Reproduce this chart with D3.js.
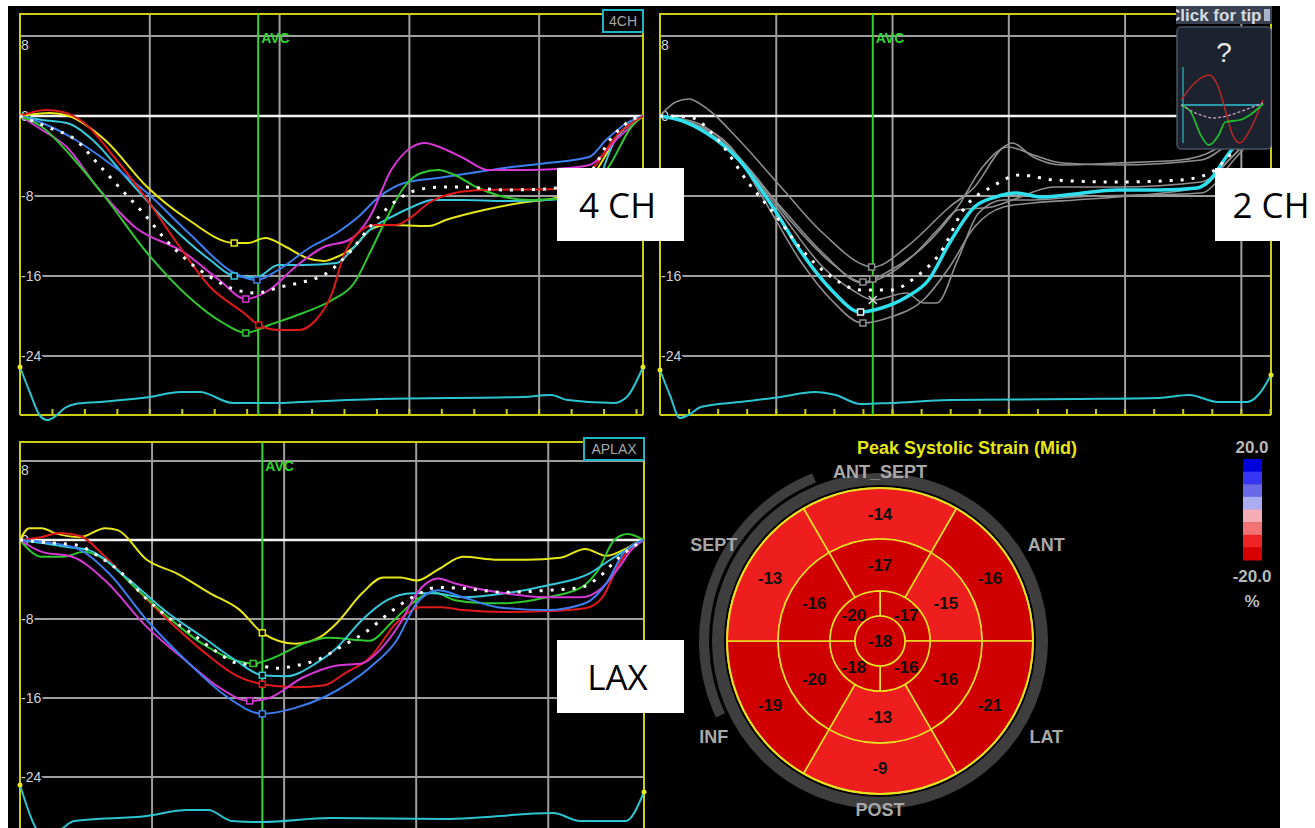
<!DOCTYPE html>
<meta charset="utf-8">
<style>
    body { margin: 0; background: #fff; }
    svg { display: block; }
    .ylab { font: 14px "Liberation Sans", Arial, sans-serif; fill: #d4d4d4; }
    .avc { font: bold 14px "Liberation Sans", Arial, sans-serif; fill: #2ed62e; }
    .seg { font: bold 18px "Liberation Sans", Arial, sans-serif; fill: #a8a8a8; }
    .val { font: bold 17px "Liberation Sans", Arial, sans-serif; fill: #111; }
    .big { font: 35px "Open Sans", sans-serif; fill: #000; }
</style>
<svg width="1315" height="828"></svg>
<script src="https://cdn.jsdelivr.net/npm/d3@7/dist/d3.min.js"></script>
<script>

// ---- strain curves, [time ms, strain %] ----
// apical 4 chamber
var ch4Yellow = [[0,0],[46,0.3],[75,0],[131,-2.4],[196,-7.1],[260,-10.4],[330,-12.7],[351,-12.7],[378,-12.2],[410,-13.1],[442,-14.2],[468,-14.5],[488,-14.1],[515,-13.1],[539,-11.4],[566,-10.9],[630,-11.0],[656,-10.4],[715,-9.4],[780,-8.6],[826,-8.2],[877,-6.4],[929,-1.4],[960,0]];
var ch4Cyan = [[0,0],[34,-0.4],[72,-0.7],[112,-2.4],[163,-6.1],[228,-10.7],[293,-14.4],[330,-16.0],[365,-16.1],[398,-14.9],[436,-14.9],[488,-14.7],[515,-13.1],[539,-11.4],[572,-10.1],[604,-9.1],[636,-8.4],[683,-8.4],[747,-8.5],[812,-8.4],[878,-7.9],[917,-2.4],[960,0]];
var ch4Blue = [[0,0],[34,-0.7],[86,-2.4],[131,-4.4],[196,-7.7],[260,-11.7],[330,-15.7],[365,-16.4],[398,-15.4],[448,-13.1],[488,-11.7],[521,-10.1],[553,-8.1],[592,-6.7],[644,-6.2],[695,-5.7],[747,-5.2],[812,-4.7],[877,-4.1],[903,-2.4],[935,-0.7],[960,0]];
var ch4Magenta = [[0,0],[34,-1.4],[72,-3.1],[119,-7.1],[177,-11.1],[254,-13.7],[307,-16.4],[348,-18.3],[384,-17.4],[424,-15.1],[468,-13.1],[507,-12.4],[539,-10.1],[572,-5.4],[604,-3.1],[624,-2.7],[650,-3.2],[683,-4.2],[721,-5.4],[780,-5.4],[826,-5.3],[877,-4.9],[923,-2.1],[960,0]];
var ch4Green = [[0,0],[34,-1.1],[80,-4.1],[131,-8.1],[196,-13.7],[260,-18.1],[313,-20.7],[348,-21.7],[384,-20.9],[436,-19.7],[481,-18.4],[515,-16.7],[539,-13.7],[566,-10.1],[592,-7.1],[618,-5.7],[644,-5.4],[670,-5.9],[703,-7.1],[735,-7.9],[786,-8.4],[826,-8.3],[863,-8.3],[909,-4.9],[942,-1.1],[960,0]];
var ch4Red = [[0,0],[40,0.6],[66,0.4],[99,-0.7],[145,-4.1],[196,-8.4],[242,-12.7],[293,-17.1],[345,-19.7],[368,-20.9],[398,-21.4],[430,-21.4],[456,-20.4],[481,-17.7],[498,-14.1],[521,-11.7],[547,-10.9],[579,-10.9],[601,-10.2],[630,-8.7],[670,-7.7],[715,-7.4],[826,-7.3],[877,-5.7],[923,-1.7],[960,0]];
var ch4Avg = [[0,0],[46,-1.2],[86,-2.4],[119,-4.7],[154,-7.2],[190,-9.7],[225,-12.4],[257,-14.4],[293,-16.1],[333,-17.4],[365,-17.7],[401,-17.1],[436,-16.6],[468,-15.9],[507,-13.7],[539,-11.1],[575,-8.7],[612,-7.4],[650,-7.1],[683,-7.1],[747,-7.4],[812,-7.3],[877,-5.7],[909,-2.4],[942,-0.4],[960,0]];
var ch4Peaks = [[330,-12.7],[330,-16.0],[365,-16.4],[348,-18.3],[348,-21.7],[368,-20.9]];
var ch4Ecg = [[0,4.8],[15,2.3],[31,-0.1],[42,-0.5],[55,-0.1],[69,0.7],[85,1.1],[123,1.3],[200,1.8],[247,2.3],[277,2.3],[328,1.2],[396,1.2],[431,1.3],[553,1.6],[774,1.8],[818,2.0],[844,1.5],[915,1.2],[935,1.8],[960,4.8]];

// apical 2 chamber
var ch2Cyan = [[0,0],[34,-0.4],[77,-1.6],[136,-4.4],[194,-9.1],[244,-13.7],[295,-17.4],[345,-19.6],[381,-19.2],[424,-18.1],[462,-16.4],[498,-12.7],[541,-9.1],[577,-8.1],[613,-7.7],[656,-8.1],[714,-7.8],[786,-7.4],[858,-7.4],[924,-7.2],[946,-6.4],[974,-4.1],[1018,-1.1],[1051,0]];
var ch2Grey1 = [[0,0],[27,1.4],[50,1.7],[77,0.9],[136,-2.4],[208,-7.1],[280,-11.7],[367,-15.1],[424,-13.1],[498,-9.1],[541,-7.1],[591,-3.1],[606,-2.7],[642,-4.1],[692,-4.9],[786,-4.7],[895,-4.4],[953,-3.4],[1004,-0.9],[1051,0]];
var ch2Grey2 = [[0,0],[64,-0.9],[122,-3.1],[179,-8.4],[244,-14.7],[295,-18.4],[349,-20.7],[397,-20.1],[453,-18.4],[498,-15.1],[541,-11.1],[591,-9.1],[642,-8.7],[714,-8.4],[786,-8.1],[931,-7.1],[979,-4.4],[1051,0]];
var ch2Grey3 = [[0,0],[77,-1.4],[151,-5.1],[223,-10.4],[295,-14.7],[349,-16.6],[397,-15.4],[453,-13.1],[512,-9.1],[555,-5.1],[599,-3.1],[642,-3.9],[692,-4.7],[786,-4.9],[931,-4.4],[987,-2.4],[1051,0]];
var ch2Grey4 = [[0,0],[64,-0.7],[136,-4.1],[208,-9.7],[280,-15.1],[331,-17.4],[367,-18.4],[424,-17.7],[453,-18.7],[476,-18.7],[512,-14.4],[548,-9.7],[591,-8.4],[642,-8.4],[714,-8.1],[931,-7.7],[987,-4.4],[1051,0]];
var ch2Grey5 = [[0,0],[64,-1.1],[136,-4.4],[208,-9.1],[280,-13.7],[349,-16.7],[397,-15.7],[440,-13.7],[482,-11.1],[512,-9.4],[570,-9.1],[606,-8.4],[678,-7.1],[786,-7.1],[931,-6.6],[987,-3.9],[1051,0]];
var ch2Avg = [[0,0],[50,-0.1],[100,-2.4],[151,-6.6],[201,-10.1],[240,-13.1],[295,-16.1],[345,-17.4],[397,-17.4],[440,-16.1],[482,-13.7],[525,-9.1],[570,-7.1],[620,-5.9],[678,-6.4],[786,-6.6],[895,-6.4],[946,-5.7],[989,-3.4],[1051,0]];
var ch2Peaks = [[364,-15.1],[349,-20.7],[349,-16.6],[366,-16.3]];
var ch2CyanPeak = [345,-19.6];
var ch2Cross = [366,-18.4];
var ch2Ecg = [[0,4.5],[17,2.0],[34,-0.3],[52,0.1],[70,0.8],[136,1.3],[208,1.8],[266,2.3],[302,2.0],[345,1.1],[397,1.2],[498,1.5],[714,1.6],[858,1.7],[910,2.0],[960,1.3],[1010,1.3],[1032,2.2],[1051,4.0]];

// apical long axis
var laxYellow = [[0,0],[14,1.2],[33,1.2],[53,0.7],[91,0.3],[129,1.2],[148,1.0],[192,-2.0],[238,-3.4],[288,-5.4],[333,-7.1],[367,-9.4],[417,-10.5],[455,-9.8],[480,-8.4],[518,-5.4],[550,-3.8],[576,-3.8],[601,-4.1],[633,-3.0],[671,-1.7],[723,-2.0],[767,-2.0],[818,-1.8],[856,-0.9],[888,-1.6],[914,-1.0],[933,-0.3],[945,0]];
var laxCyan = [[0,0],[33,-0.3],[71,-0.7],[103,-1.0],[161,-3.8],[224,-7.4],[276,-9.8],[327,-12.2],[367,-13.7],[403,-13.8],[448,-12.5],[480,-10.9],[518,-8.1],[556,-6.1],[594,-5.4],[626,-5.4],[671,-5.8],[735,-5.4],[798,-4.6],[862,-3.4],[894,-2.0],[926,-0.7],[945,0]];
var laxBlue = [[0,0],[47,-0.3],[91,-1.0],[135,-3.4],[192,-8.1],[256,-12.5],[314,-15.9],[367,-17.6],[417,-17.0],[461,-15.9],[498,-14.5],[530,-12.9],[570,-10.2],[601,-6.4],[633,-5.1],[671,-5.8],[723,-6.8],[798,-7.1],[856,-6.4],[888,-4.4],[914,-1.3],[945,0]];
var laxMagenta = [[0,0],[33,-1.2],[79,-1.7],[129,-4.1],[192,-8.8],[256,-12.5],[301,-14.9],[348,-16.3],[377,-16.0],[429,-13.9],[480,-12.7],[518,-12.5],[544,-11.2],[576,-8.4],[601,-5.4],[633,-3.9],[659,-4.4],[735,-5.4],[798,-5.8],[850,-5.8],[882,-4.8],[908,-2.7],[926,-1.0],[945,0]];
var laxGreen = [[0,0],[33,-1.7],[65,-1.7],[97,-1.2],[129,-2.0],[174,-4.8],[224,-7.8],[276,-10.5],[327,-12.2],[353,-12.5],[385,-11.9],[429,-10.5],[467,-9.9],[530,-10.2],[562,-8.4],[594,-6.4],[626,-5.3],[659,-6.1],[703,-6.4],[735,-6.4],[798,-5.8],[850,-4.8],[876,-3.0],[900,0],[920,0.6],[945,0]];
var laxRed = [[0,0],[33,0.3],[59,0.7],[91,0.4],[129,-1.7],[174,-4.8],[224,-8.1],[276,-11.2],[327,-13.7],[367,-14.6],[417,-14.9],[461,-14.7],[492,-13.5],[530,-11.9],[570,-8.4],[608,-6.8],[639,-6.8],[671,-7.1],[735,-7.3],[798,-7.2],[856,-6.9],[882,-5.8],[908,-2.3],[926,-0.7],[945,0]];
var laxAvg = [[0,0],[47,-0.3],[85,-0.5],[120,-1.7],[155,-3.4],[189,-5.8],[224,-7.8],[259,-9.4],[295,-11.2],[330,-12.5],[365,-12.7],[385,-13.0],[420,-12.7],[455,-12.0],[489,-10.7],[524,-9.3],[559,-7.4],[594,-5.8],[633,-4.8],[671,-4.9],[735,-5.3],[798,-5.1],[850,-4.8],[876,-3.8],[908,-1.7],[945,0]];
var laxPeaks = [[367,-9.4],[367,-13.7],[367,-17.6],[348,-16.3],[353,-12.5],[367,-14.6]];
var laxEcg = [[0,5.0],[24,0.7],[42,-0.3],[61,0.5],[82,1.4],[192,1.9],[253,2.5],[285,2.5],[321,1.4],[367,1.3],[470,1.7],[645,1.6],[808,2.2],[848,1.4],[917,1.4],[945,4.3]];

var avcTimes = [367, 366, 367];
var strainTicks = [8, 0, -8, -16, -24];

// ---- bull's eye, peak systolic strain (%) ----
var segNames = ["ANT_SEPT", "ANT", "LAT", "POST", "INF", "SEPT"];
var basalStrain = [-14, -16, -21, -9, -19, -13];
var midStrain = [-17, -15, -16, -13, -20, -16];
var apicalStrain = [-17, -16, -18, -20];   // clockwise from 12 o'clock
var apexStrain = -18;
var legendTicks = ["20.0", "-20.0"];
var legendColors = ["#0000dc", "#3636f4", "#6a6ae8", "#acacf0", "#f6acb4", "#f07272", "#f02424", "#d60000"];

// ---- tip thumbnail curves [phase, amplitude] ----
var tipRed = [[0,0.25],[0.18,1.15],[0.34,1.5],[0.46,0.85],[0.54,-0.25],[0.63,-1.5],[0.72,-1.9],[0.84,-1.25],[1,0.25]];
var tipGreen = [[0,0],[0.12,-0.35],[0.24,-1.5],[0.34,-2.0],[0.46,-1.5],[0.54,-0.85],[0.72,-0.75],[0.84,-0.5],[1,0.05]];
var tipPink = [[0,0],[0.24,-0.5],[0.4,-0.65],[0.6,-0.5],[0.84,-0.15],[1,0.1]];

var svg = d3.select("svg");
svg.append("rect").attr("width", 1315).attr("height", 828).attr("fill", "#fff");
svg.append("rect").attr("x", 8).attr("y", 6).attr("width", 1272).attr("height", 822).attr("fill", "#000");

var frameColor = "#cccc10", gridColor = "#9e9e9e", avcColor = "#2ed62e";
var segColors = ["#e6e61a", "#38c8dc", "#3d7ef0", "#d638d6", "#30c830", "#e01a1a"];

function drawPanel(p) {
    var g = svg.append("g");
    var x = d3.scaleLinear().domain([0, p.tmax]).range([p.x0, p.x1]);
    var y = d3.scaleLinear().domain([-24, 8]).range([p.y24, p.y8]);
    var ye = d3.scaleLinear().domain([-1, 5]).range([p.ecgZero + 10, p.ecgZero - 50]);
    var line = d3.line().x(function(d) { return x(d[0]); }).y(function(d) { return y(d[1]); }).curve(d3.curveMonotoneX);

    // grid
    g.selectAll("line.vg").data(d3.range(200, p.tmax, 200)).join("line").attr("class", "vg")
        .attr("x1", x).attr("x2", x).attr("y1", p.top).attr("y2", p.base)
        .attr("stroke", gridColor).attr("stroke-width", 2);
    g.selectAll("line.hg").data(strainTicks).join("line").attr("class", "hg")
        .attr("x1", p.x0).attr("x2", p.x1).attr("y1", y).attr("y2", y)
        .attr("stroke", function(d) { return d === 0 ? "#f4f4f4" : gridColor; })
        .attr("stroke-width", function(d) { return d === 0 ? 2.5 : 2; });
    g.selectAll("text.ylab").data(strainTicks).join("text").attr("class", "ylab")
        .attr("x", p.x0 + 1).attr("y", function(d) { return d === 8 ? y(d) + 14 : y(d) + 5; })
        .attr("stroke", "#000").attr("stroke-width", 4).attr("paint-order", "stroke")
        .text(function(d) { return d; });

    // frame
    g.append("path").attr("fill", "none").attr("stroke", frameColor).attr("stroke-width", 2)
        .attr("d", "M" + p.x0 + "," + p.base + "V" + p.top + "H" + p.x1 + "V" + p.base);
    if (p.base < 828) {
        g.append("line").attr("x1", p.x0).attr("x2", p.x1).attr("y1", p.base).attr("y2", p.base)
            .attr("stroke", frameColor).attr("stroke-width", 2);
        g.selectAll("line.tk").data(d3.range(0, p.tmax, 50)).join("line").attr("class", "tk")
            .attr("x1", x).attr("x2", x).attr("y1", p.base).attr("y2", p.base - 6)
            .attr("stroke", frameColor).attr("stroke-width", 2);
    }

    // AVC marker
    g.append("line").attr("x1", x(p.avc)).attr("x2", x(p.avc)).attr("y1", p.top).attr("y2", p.base)
        .attr("stroke", avcColor).attr("stroke-width", 2);
    g.append("text").attr("class", "avc").attr("x", x(p.avc) + 3).attr("y", p.top + 29).text("AVC");

    // ECG trace
    g.append("path").datum(p.ecg).attr("fill", "none").attr("stroke", "#2cc4d0").attr("stroke-width", 2)
        .attr("d", d3.line().x(function(d) { return x(d[0]); }).y(function(d) { return ye(d[1]); }).curve(d3.curveMonotoneX));
    g.selectAll("circle.ed").data([p.ecg[0], p.ecg[p.ecg.length - 1]]).join("circle").attr("class", "ed")
        .attr("cx", function(d) { return x(d[0]); }).attr("cy", function(d) { return ye(d[1]); })
        .attr("r", 2.5).attr("fill", "#e8e820");

    // segment curves
    g.selectAll("path.sc").data(p.series).join("path").attr("class", "sc")
        .attr("fill", "none").attr("stroke-width", p.width)
        .attr("stroke", function(d, i) { return p.colors[i]; })
        .attr("d", line);
    if (p.main) {
        g.append("path").datum(p.main).attr("fill", "none").attr("stroke", "#2ee0ee")
            .attr("stroke-width", 3.5).attr("d", line);
    }
    // average (dotted)
    g.append("path").datum(p.avg).attr("fill", "none").attr("stroke", "#fff")
        .attr("stroke-width", 3).attr("stroke-dasharray", "3 8").attr("d", line);

    // peak markers
    g.selectAll("rect.pk").data(p.peaks).join("rect").attr("class", "pk")
        .attr("x", function(d) { return x(d[0]) - 3; }).attr("y", function(d) { return y(d[1]) - 3; })
        .attr("width", 6).attr("height", 6).attr("fill", "#000")
        .attr("stroke", function(d, i) { return p.peakColors[i]; }).attr("stroke-width", 1.5);
    return { x: x, y: y };
}

drawPanel({ x0: 20, x1: 643, top: 14, base: 415, y8: 36, y24: 356, tmax: 960, ecgZero: 415,
    avc: avcTimes[0], ecg: ch4Ecg, width: 2,
    series: [ch4Yellow, ch4Cyan, ch4Blue, ch4Magenta, ch4Green, ch4Red], colors: segColors,
    avg: ch4Avg, peaks: ch4Peaks, peakColors: segColors });

var ch2 = drawPanel({ x0: 660, x1: 1271, top: 14, base: 415, y8: 36, y24: 356, tmax: 1051, ecgZero: 415,
    avc: avcTimes[1], ecg: ch2Ecg, width: 1.6,
    series: [ch2Grey1, ch2Grey2, ch2Grey3, ch2Grey4, ch2Grey5], colors: d3.range(5).map(function() { return "#8e8e8e"; }),
    main: ch2Cyan, avg: ch2Avg, peaks: ch2Peaks.concat([ch2CyanPeak]),
    peakColors: ["#8e8e8e", "#8e8e8e", "#8e8e8e", "#8e8e8e", "#f0f0f0"] });
svg.append("path").attr("stroke", "#ddd").attr("stroke-width", 1.5)
    .attr("d", "M" + (ch2.x(ch2Cross[0]) - 4) + "," + (ch2.y(ch2Cross[1]) - 4) + "l8,8m0,-8l-8,8");

drawPanel({ x0: 20, x1: 644, top: 442, base: 840, y8: 461, y24: 777, tmax: 945, ecgZero: 835,
    avc: avcTimes[2], ecg: laxEcg, width: 2,
    series: [laxYellow, laxRed, laxGreen, laxCyan, laxMagenta, laxBlue],
    colors: [segColors[0], segColors[5], segColors[4], segColors[1], segColors[3], segColors[2]],
    avg: laxAvg, peaks: laxPeaks,
    peakColors: [segColors[0], segColors[1], segColors[2], segColors[3], segColors[4], segColors[5]] });

// view tags
[["4CH", 603, 10, 40], ["APLAX", 584, 438, 60]].forEach(function(t) {
    svg.append("rect").attr("x", t[1]).attr("y", t[2]).attr("width", t[3]).attr("height", 22)
        .attr("fill", "#000").attr("stroke", "#22b4c4").attr("stroke-width", 2);
    svg.append("text").attr("x", t[1] + t[3] / 2).attr("y", t[2] + 16).attr("text-anchor", "middle")
        .style("font", "14px 'Liberation Sans', Arial, sans-serif")
        .attr("fill", "#a8a8a8").text(t[0]);
});

// ---- bull's eye ----
var cx = 880, cy = 641, rApex = 25, rApical = 50, rMid = 102, rBase = 153;
var deg = Math.PI / 180;
var fill = d3.scaleThreshold().domain([-15.5, -8]).range(["#d00000", "#ee1e1e", "#f47070"]);
var be = svg.append("g").attr("transform", "translate(" + cx + "," + cy + ")");

be.append("path").attr("fill", "#3e3e3e")
    .attr("d", d3.arc()({ innerRadius: 156, outerRadius: 168, startAngle: 0, endAngle: 2 * Math.PI }));
be.append("path").attr("fill", "#3e3e3e")
    .attr("d", d3.arc()({ innerRadius: 171, outerRadius: 181, startAngle: 245 * deg, endAngle: 338 * deg }));

var rings = [
    { vals: basalStrain, r0: rMid, r1: rBase, n: 6, off: -30, lr: 127 },
    { vals: midStrain, r0: rApical, r1: rMid, n: 6, off: -30, lr: 76 },
    { vals: apicalStrain, r0: rApex, r1: rApical, n: 4, off: 0, lr: 37 }
];
var arc = d3.arc();
rings.forEach(function(ring) {
    var step = 360 / ring.n;
    ring.vals.forEach(function(v, i) {
        var a0 = (ring.off + i * step) * deg, a1 = a0 + step * deg;
        be.append("path").attr("fill", fill(v)).attr("stroke", "#e8e020").attr("stroke-width", 1.6)
            .attr("d", arc({ innerRadius: ring.r0, outerRadius: ring.r1, startAngle: a0, endAngle: a1 }));
        var am = (a0 + a1) / 2;
        be.append("text").attr("class", "val").attr("text-anchor", "middle")
            .attr("x", ring.lr * Math.sin(am)).attr("y", -ring.lr * Math.cos(am)).attr("dy", "0.36em")
            .text(v);
    });
});
be.append("circle").attr("r", rApex).attr("fill", fill(apexStrain)).attr("stroke", "#e8e020").attr("stroke-width", 1.6);
be.append("text").attr("class", "val").attr("text-anchor", "middle").attr("dy", "0.36em").text(apexStrain);
be.append("circle").attr("r", rBase).attr("fill", "none").attr("stroke", "#e8e020").attr("stroke-width", 2);

segNames.forEach(function(name, i) {
    var a = i * 60 * deg, r = (i % 3 === 0) ? 169 : 192;
    be.append("text").attr("class", "seg").attr("text-anchor", "middle")
        .attr("x", r * Math.sin(a)).attr("y", -r * Math.cos(a)).attr("dy", "0.36em")
        .text(name);
});

svg.append("text").attr("x", 967).attr("y", 454).attr("text-anchor", "middle")
    .style("font", "bold 18px 'Liberation Sans', Arial, sans-serif").attr("fill", "#e6e614")
    .text("Peak Systolic Strain (Mid)");

// colour legend
var ly = d3.scaleBand().domain(d3.range(legendColors.length)).range([459, 560]);
svg.selectAll("rect.lg").data(legendColors).join("rect").attr("class", "lg")
    .attr("x", 1243).attr("y", function(d, i) { return ly(i); })
    .attr("width", 19).attr("height", ly.bandwidth() + 0.5).attr("fill", function(d) { return d; });
svg.selectAll("text.lt").data(legendTicks.concat(["%"])).join("text").attr("class", "lt")
    .attr("x", 1252).attr("y", function(d, i) { return [453, 582, 607][i]; }).attr("text-anchor", "middle")
    .style("font", "bold 17px 'Liberation Sans', Arial, sans-serif").attr("fill", "#b8b8b8")
    .text(function(d) { return d; });

// tip panel
svg.append("clipPath").attr("id", "tipclip").append("rect").attr("x", 1176).attr("y", 5).attr("width", 86).attr("height", 20);
svg.append("rect").attr("x", 1176).attr("y", 6).attr("width", 96).attr("height", 18).attr("fill", "#3a4252");
svg.append("text").attr("x", 1168).attr("y", 21).attr("clip-path", "url(#tipclip)")
    .style("font", "bold 17px 'Liberation Sans', Arial, sans-serif").attr("fill", "#d6dae2").text("Click for tip");
svg.append("rect").attr("x", 1264).attr("y", 9).attr("width", 6).attr("height", 12).attr("fill", "#a8b4c8");
svg.append("rect").attr("x", 1177).attr("y", 27).attr("width", 94).attr("height", 122).attr("rx", 4)
    .attr("fill", "#1d232e").attr("stroke", "#4a5262").attr("stroke-width", 1.5);
svg.append("text").attr("x", 1224).attr("y", 62).attr("text-anchor", "middle")
    .style("font", "28px 'Liberation Sans', Arial, sans-serif").attr("fill", "#e8e8e8").text("?");
var tx = d3.scaleLinear().domain([0, 1]).range([1181, 1263]);
var ty = d3.scaleLinear().domain([-2, 2]).range([145, 65]);
var tipLine = d3.line().x(function(d) { return tx(d[0]); }).y(function(d) { return ty(d[1]); }).curve(d3.curveMonotoneX);
svg.append("line").attr("x1", tx(0) + 2).attr("x2", tx(0) + 2).attr("y1", ty(1.9)).attr("y2", ty(-1.9))
    .attr("stroke", "#2cb8c8").attr("stroke-width", 1.2);
svg.append("line").attr("x1", tx(0)).attr("x2", tx(1)).attr("y1", ty(0)).attr("y2", ty(0))
    .attr("stroke", "#2cc4d4").attr("stroke-width", 1.5);
svg.append("path").datum(tipRed).attr("fill", "none").attr("stroke", "#b82828").attr("stroke-width", 1.5).attr("d", tipLine);
svg.append("path").datum(tipGreen).attr("fill", "none").attr("stroke", "#22b830").attr("stroke-width", 1.8).attr("d", tipLine);
svg.append("path").datum(tipPink).attr("fill", "none").attr("stroke", "#c8a0c8").attr("stroke-width", 1.3)
    .attr("stroke-dasharray", "3 2").attr("d", tipLine);

// white annotation boxes
[["4 CH", 557, 168, 127], ["2 CH", 1215, 168, 100], ["LAX", 557, 640, 127]].forEach(function(b) {
    svg.append("rect").attr("x", b[1]).attr("y", b[2]).attr("width", b[3]).attr("height", 73).attr("fill", "#fff");
    svg.append("text").attr("class", "big").attr("text-anchor", "middle")
        .attr("x", b[1] + b[3] / 2 + (b[0] === "2 CH" ? 6 : -3)).attr("y", b[2] + 50).text(b[0]);
});

</script>
